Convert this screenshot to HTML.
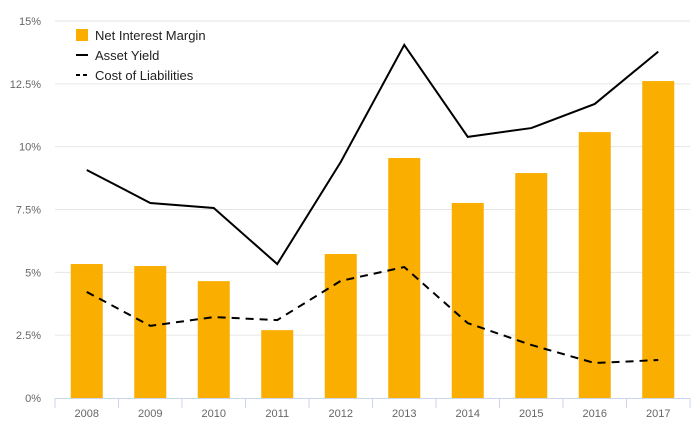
<!DOCTYPE html>
<html><head><meta charset="utf-8"><style>
body{margin:0;background:#fff;}
svg{display:block;font-family:"Liberation Sans",sans-serif;}
</style></head><body>
<svg id="chart" width="700" height="433"></svg>
<script>
const categories=["2008","2009","2010","2011","2012","2013","2014","2015","2016","2017"];
const netInterestMargin=[5.33,5.25,4.65,2.7,5.73,9.55,7.76,8.95,10.58,12.61];
const assetYield=[9.07,7.76,7.56,5.33,9.39,14.05,10.39,10.74,11.7,13.78];
const costOfLiabilities=[4.22,2.87,3.22,3.1,4.66,5.21,2.98,2.11,1.39,1.51];
const yTicks=[0,2.5,5,7.5,10,12.5,15];
const yTickLabels=["0%","2.5%","5%","7.5%","10%","12.5%","15%"];

const svg=document.getElementById('chart');
const NS='http://www.w3.org/2000/svg';
const L=55,R=690,T=21,B=398;
const band=(R-L)/categories.length;
const x=i=>L+band*(i+0.5);
const y=v=>B-(v/15)*(B-T);
function mk(tag,attrs,parent){const e=document.createElementNS(NS,tag);for(const k in attrs)e.setAttribute(k,attrs[k]);(parent||svg).appendChild(e);return e;}

const grid=mk('g',{});


yTicks.forEach((t,i)=>{
  if(t>0){const ln=mk('line',{x1:L,x2:R,y1:y(t),y2:y(t),stroke:'#e6e6e6','stroke-width':1},grid);
  
  }
  const tx=mk('text',{x:41,y:y(t)+4,'text-anchor':'end','font-size':11,fill:'#666'});
  tx.textContent=yTickLabels[i];
  
  
});

const bars=mk('g',{});


netInterestMargin.forEach((v,i)=>{
  const r=mk('rect',{x:x(i)-16,y:y(v),width:32,height:B-y(v),fill:'#f9ae00'},bars);
  
  
});

const ax=mk('line',{x1:L,x2:R,y1:B+0.5,y2:B+0.5,stroke:'#ccd6eb','stroke-width':1});


for(let i=0;i<=categories.length;i++){
  const tk=mk('line',{x1:L+band*i,x2:L+band*i,y1:B,y2:B+10,stroke:'#ccd6eb'});
  
  
}
categories.forEach((c,i)=>{
  const tx=mk('text',{x:x(i),y:417,'text-anchor':'middle','font-size':11,fill:'#666'});
  tx.textContent=c;
  
  
});

const pts=a=>a.map((v,i)=>x(i)+','+y(v)).join(' ');
const ay=mk('polyline',{points:pts(assetYield),fill:'none',stroke:'#000','stroke-width':2});


const cl=mk('polyline',{points:pts(costOfLiabilities),fill:'none',stroke:'#000','stroke-width':2,'stroke-dasharray':'8,6'});



const lg=mk('g',{});


const e1=mk('rect',{x:76,y:29,width:12,height:12,fill:'#f9ae00'},lg);


const e2=mk('line',{x1:76,x2:88,y1:55,y2:55,stroke:'#000','stroke-width':2},lg);


const e3=mk('line',{x1:76,x2:88,y1:75,y2:75,stroke:'#000','stroke-width':2,'stroke-dasharray':'4,3'},lg);


[["Net Interest Margin",40],["Asset Yield",60],["Cost of Liabilities",80]].forEach(([t,yy])=>{
  const tx=mk('text',{x:95,y:yy,'font-size':13,fill:'#222'},lg);
  tx.textContent=t;
  
  
});
</script>
</body></html>
